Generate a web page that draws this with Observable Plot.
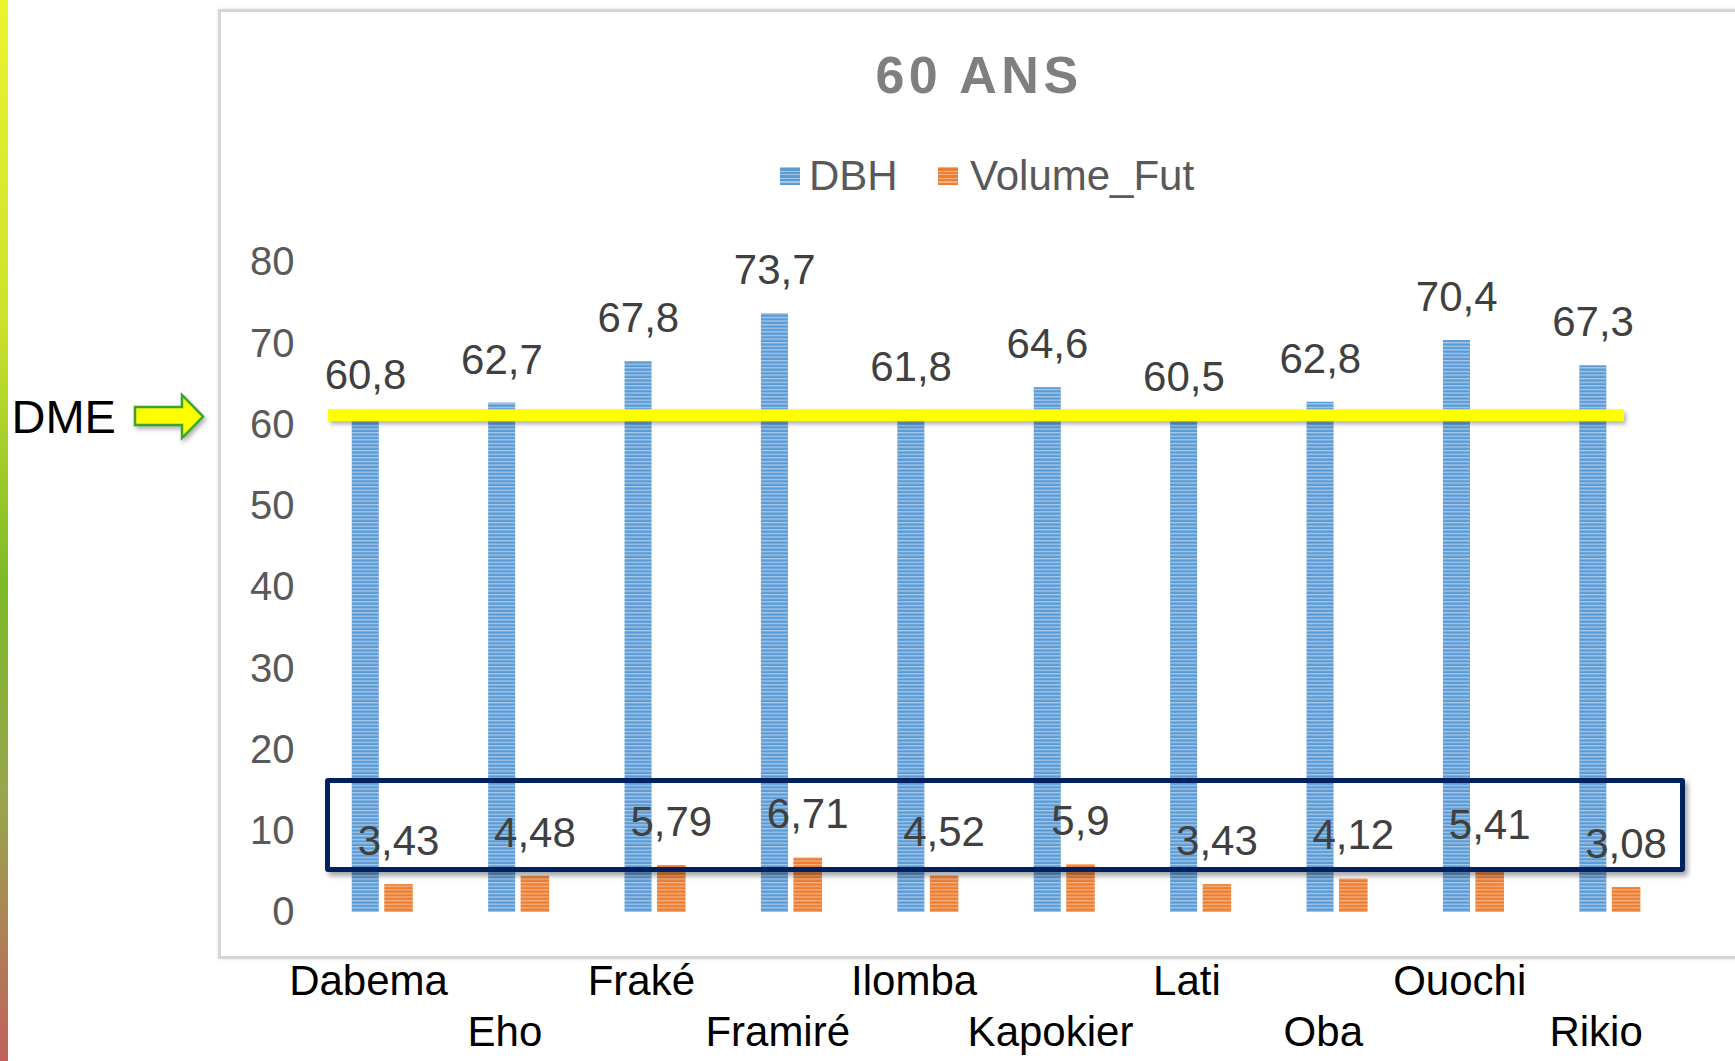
<!DOCTYPE html>
<html>
<head>
<meta charset="utf-8">
<script src="https://cdn.jsdelivr.net/npm/d3@7"></script>
<script src="https://cdn.jsdelivr.net/npm/@observablehq/plot@0.6"></script>
<style>
  html, body { margin: 0; padding: 0; background: #fff; overflow: hidden; }
  #wrap { position: relative; width: 1735px; height: 1061px; font-family: "Liberation Sans", Arial, sans-serif; }
  #wrap svg { position: absolute; left: 0; top: 0; }
  .ov { position: absolute; pointer-events: none; white-space: nowrap; line-height: 1; }
</style>
</head>
<body>
<div id="wrap">
  <div class="ov" style="left:0;top:0;width:8px;height:1061px;background:linear-gradient(to bottom,#ecf42e 0%,#cde22b 30%,#7cba28 55%,#98a64c 75%,#c2605e 100%);"></div>
  <div class="ov" style="left:218px;top:9px;width:1560px;height:950px;box-sizing:border-box;border:3px solid #d6d6d6;box-shadow:0 0 3px rgba(0,0,0,0.12);"></div>
</div>
<script>
// ---- data ----
const categories = ["Dabema", "Eho", "Fraké", "Framiré", "Ilomba", "Kapokier", "Lati", "Oba", "Ouochi", "Rikio"];
const dbh = [60.8, 62.7, 67.8, 73.7, 61.8, 64.6, 60.5, 62.8, 70.4, 67.3];
const volumeFut = [3.43, 4.48, 5.79, 6.71, 4.52, 5.9, 3.43, 4.12, 5.41, 3.08];
const yTicks = [0, 10, 20, 30, 40, 50, 60, 70, 80];
const dme = 61.2;
const seriesNames = ["DBH", "Volume_Fut"];
const chartTitle = "60 ANS";
const dmeLabel = "DME";

const rows = categories.map((c, i) => ({cat: c, dbh: dbh[i], vol: volumeFut[i], i}));
const fmt = v => String(v).replace(".", ",");
const font = "Liberation Sans, Arial, sans-serif";

const svg = Plot.plot({
  width: 1735,
  height: 1061,
  marginLeft: 283.4,
  marginRight: 26.8,
  marginTop: 262,
  marginBottom: 149,
  style: {background: "transparent", fontFamily: font},
  x: {type: "band", domain: categories, padding: 0.446, round: false, axis: null},
  y: {domain: [0, 80], axis: null},
  marks: [
    Plot.text(yTicks, {y: d => d, text: d => String(d), frameAnchor: "left", textAnchor: "end", dx: 10.6, fontSize: 40, fill: "#595959", fontFamily: font}),
    Plot.barY(rows, {x: "cat", y: "dbh", fill: "url(#stripeBlue)", insetLeft: 7.5, insetRight: 41}),
    Plot.barY(rows, {x: "cat", y: "vol", fill: "url(#stripeOrange)", insetLeft: 40, insetRight: 7}),
    Plot.ruleY([dme], {stroke: "#ffff00", strokeWidth: 12, insetLeft: 44.6, insetRight: 84.2}),
    Plot.text(rows, {x: "cat", y: "dbh", text: d => fmt(d.dbh), dx: -17, dy: -43, fontSize: 42, fill: "#404040", fontFamily: font}),
    Plot.text(rows, {x: "cat", y: "vol", text: d => fmt(d.vol), dx: 16, dy: -43, fontSize: 42, fill: "#404040", fontFamily: font}),
    Plot.text(rows.filter(d => d.i % 2 === 0), {x: "cat", text: "cat", frameAnchor: "bottom", dx: -14, dy: 82, fontSize: 42, fill: "#000", fontFamily: font}),
    Plot.text(rows.filter(d => d.i % 2 === 1), {x: "cat", text: "cat", frameAnchor: "bottom", dx: -14, dy: 133, fontSize: 42, fill: "#000", fontFamily: font})
  ]
});

d3.select(svg).insert("defs", ":first-child").html(`
  <pattern id="stripeBlue" patternUnits="userSpaceOnUse" width="10" height="3.6">
    <rect width="10" height="3.6" fill="#5b9bd5"/>
    <rect y="0" width="10" height="1.3" fill="#a6c9ea"/>
  </pattern>
  <pattern id="stripeOrange" patternUnits="userSpaceOnUse" width="10" height="3.6">
    <rect width="10" height="3.6" fill="#ed7d31"/>
    <rect y="0" width="10" height="1.3" fill="#f5b183"/>
  </pattern>
`);
const ruleG = svg.querySelector('[aria-label="rule"]');
if (ruleG) ruleG.style.filter = "drop-shadow(2px 3px 2px rgba(0,0,0,0.3))";

const wrap = document.getElementById("wrap");
wrap.insertBefore(svg, wrap.children[1]);

function addDiv(html, style) {
  const d = document.createElement("div");
  d.className = "ov";
  d.setAttribute("style", style);
  d.innerHTML = html;
  wrap.appendChild(d);
  return d;
}
function addText(text, style) {
  const d = document.createElement("div");
  d.className = "ov";
  d.setAttribute("style", style);
  d.textContent = text;
  wrap.appendChild(d);
  return d;
}

// title
addText(chartTitle, "left:979px;top:49px;transform:translateX(-50%);font-size:52px;font-weight:bold;letter-spacing:4.5px;color:#7f7f7f;");
// legend
const legendColors = [["#5b9bd5", "#a6c9ea"], ["#ed7d31", "#f5b183"]];
const legendSwatchX = [780, 938];
const legendTextX = [809, 970];
seriesNames.forEach((s, k) => {
  addDiv("", `left:${legendSwatchX[k]}px;top:167px;width:20px;height:18px;background:repeating-linear-gradient(to bottom, ${legendColors[k][1]} 0px, ${legendColors[k][1]} 1.3px, ${legendColors[k][0]} 1.3px, ${legendColors[k][0]} 3.6px);`);
  addText(s, `left:${legendTextX[k]}px;top:154.5px;font-size:42px;color:#595959;`);
});
// annotation box
addDiv("", "left:325px;top:778px;width:1360px;height:94px;box-sizing:border-box;border:5px solid #002060;border-radius:3px;box-shadow:3px 4px 5px rgba(0,0,0,0.35);");
// DME label + arrow
addText(dmeLabel, "left:11.5px;top:393px;font-size:47px;color:#000;");
addDiv(`<svg width="80" height="52" style="overflow:visible;filter:drop-shadow(2px 3px 2px rgba(0,0,0,0.3))">
  <polygon points="3,15 50,15 50,3 71,24.5 50,46 50,33 3,33" fill="#ffff00" stroke="#3aa52a" stroke-width="2.5" stroke-linejoin="miter"/>
</svg>`, "left:132px;top:392px;");
</script>
</body>
</html>
